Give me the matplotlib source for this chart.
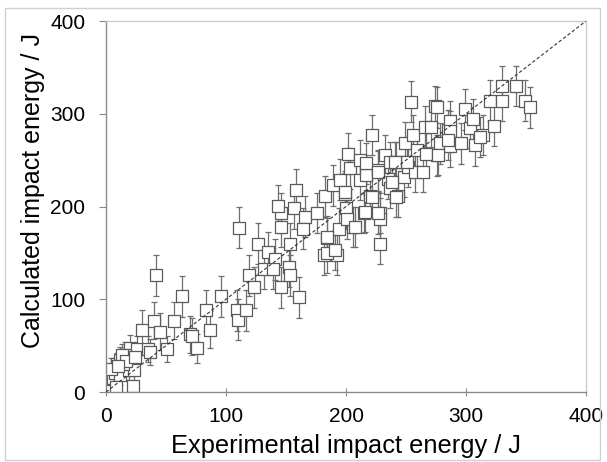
import matplotlib
matplotlib.use("Agg")
import matplotlib.pyplot as plt
from matplotlib.patches import Rectangle

plt.rcParams['font.family'] = ['Liberation Sans', 'DejaVu Sans']

# Experimental (x) and calculated (y) impact energy, J, with y error (J)
x_exp = [0.5, 2, 3.5, 6, 7.5, 9, 11.7, 11.7, 20, 19.5, 23, 22.5, 26, 30, 35, 36.7,
         40, 41.4, 45, 50.5, 56.7, 63, 70, 72, 75.5, 83, 87, 96, 5, 1, 8, 14, 16, 4,
         109, 110, 117, 110.5, 119, 123, 127, 135, 141, 132, 139, 146, 152.5, 153, 161,
         146, 145.6, 153, 157, 166, 164, 175.6, 184, 182, 192.5, 194, 182.5, 199, 184,
         184, 189, 195, 200, 199, 202, 203, 206, 211.7, 211.7, 215, 217, 220, 222, 227,
         228, 228, 228, 232.5, 235, 237, 237, 242, 243, 248, 249, 252, 254, 256, 257.5,
         259, 264, 266, 271, 274, 275.6, 275.6, 278, 285, 287, 287, 287, 296, 299, 303,
         306, 307.5, 314, 320, 323, 330, 330, 342, 349, 353,
         217, 250.5, 267, 238, 216, 200.6, 191, 311.7, 276.7, 285, 158, 143, 207.5,
         227, 241, 221.4, 242, 227, 13, 17, 24, 10]
y_calc = [4, 7, 10, 13, 20, 30, 35, 18, 47, 24, 24, 6, 46, 67, 46, 43,
          77, 126, 65, 46, 77, 103, 62, 60, 47, 88, 67, 103, 2, 1, 5, 30, 40, 25,
          88, 78, 88, 177, 126, 113, 160, 151, 143, 133, 133, 113, 135, 126, 102,
          193, 178, 160, 198, 189, 176, 193, 166, 148, 148, 176, 211, 214, 150,
          167.5, 223, 229, 198, 216, 257, 241, 178, 229, 250, 193, 234, 211, 277, 239,
          193, 187, 160, 255.5, 230, 248, 220, 248, 211, 232, 269, 243, 313, 277, 237.5,
          261, 237.5, 286, 286, 308, 255, 307, 268, 282, 292, 281, 265, 268, 305, 285,
          294, 266, 277, 314, 287, 330, 314, 330, 314, 307,
          246.5, 248, 257, 226.7, 194, 187, 153, 275, 255.5, 271.7, 218, 201, 178,
          237.5, 248, 210.6, 210.6, 192.6, 40, 33, 38, 28]
y_err = [4, 6, 8, 8, 10, 12, 14, 10, 14, 12, 12, 6, 14, 21, 14, 14,
         20, 22, 20, 14, 20, 22, 20, 20, 16, 22, 20, 22, 3, 2, 5, 12, 14, 12,
         22, 22, 22, 22, 22, 22, 22, 22, 22, 22, 22, 22, 22, 22, 22,
         22, 22, 22, 22, 22, 22, 22, 22, 22, 22, 22, 22, 22, 22,
         22, 22, 22, 22, 22, 22, 22, 22, 22, 22, 22, 22, 22, 22, 22,
         22, 22, 22, 22, 22, 22, 22, 22, 22, 22, 22, 22, 22, 22, 22,
         22, 22, 22, 22, 22, 22, 22, 22, 22, 22, 22, 22, 22, 22, 22,
         22, 22, 22, 22, 22, 22, 22, 22, 22, 22,
         22, 22, 22, 22, 22, 22, 22, 22, 22, 22, 22, 22, 22,
         22, 22, 22, 22, 22, 12, 12, 12, 10]

line_x = [0, 400]
line_y = [0, 400]
ticks = [0, 100, 200, 300, 400]

fig = plt.figure(figsize=(6.07, 4.62), dpi=100)
fig.patches.append(Rectangle((5 / 607, 2 / 462), 595 / 607, 452 / 462,
                             transform=fig.transFigure, fill=False,
                             edgecolor='#d0d0d0', linewidth=1.0))
ax = fig.add_axes([106 / 607, 1 - 392 / 462, 480 / 607, 371 / 462])

ax.errorbar(x_exp, y_calc, yerr=y_err, fmt='none', ecolor='#6e6e6e',
            elinewidth=0.9, capsize=2.3, capthick=0.9, zorder=1)
ax.scatter(x_exp, y_calc, marker='s', s=82, facecolor='white',
           edgecolor='#5a5a5a', linewidth=0.9, zorder=2)
ax.plot(line_x, line_y, linestyle=(0, (3, 2)), color='#333333',
        linewidth=0.8, zorder=3)

ax.set_xlim(0, 400)
ax.set_ylim(0, 400)
ax.set_xticks(ticks)
ax.set_yticks(ticks)
ax.tick_params(axis='x', direction='inout', length=6, width=0.8,
               colors='#888888', labelcolor='black', labelsize=15, pad=8)
ax.tick_params(axis='y', direction='out', length=5, width=0.8,
               colors='#888888', labelcolor='black', labelsize=15, pad=10)
for side in ['left', 'bottom']:
    ax.spines[side].set_color('#8a8a8a')
    ax.spines[side].set_linewidth(1.0)
for side in ['top', 'right']:
    ax.spines[side].set_color('#cccccc')
    ax.spines[side].set_linewidth(1.0)

ax.set_xlabel('Experimental impact energy / J', fontsize=18.3)
ax.set_ylabel('Calculated impact energy / J', fontsize=18)
ax.xaxis.set_label_coords(0.5, -0.112)
ax.yaxis.set_label_coords(-0.128, 0.544)

fig.savefig('out.png', dpi=100)
